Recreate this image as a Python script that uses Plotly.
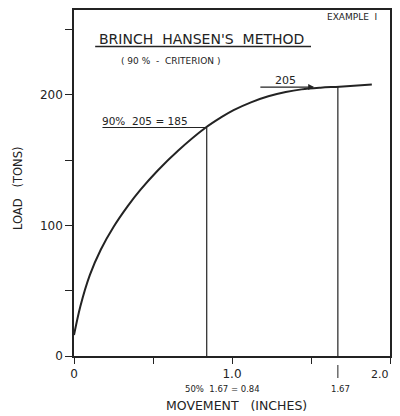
import plotly.graph_objects as go

# Load-movement curve (movement in inches, load in tons)
movement = [0.0, 0.04, 0.10, 0.17, 0.25, 0.34, 0.42, 0.53, 0.66, 0.83, 0.93, 1.01, 1.12, 1.23, 1.34, 1.44, 1.56, 1.68, 1.885]
load = [16, 38, 62, 81.6, 98.8, 114.8, 127.2, 142.1, 157.4, 174.6, 182.7, 188.3, 194.3, 198.9, 202.2, 204.2, 205.5, 206.3, 207.9]

# Construction lines
ult_load = 206          # "205" level as drawn
ult_move = 1.67
ninety_load = 175       # 90% line level as drawn
half_move = 0.84

xtick_vals = [0, 0.5, 1.0, 1.5, 2.0]
xtick_text = ["0", "", "1.0", "", ""]
x_end_label = "2.0"
ytick_vals = [0, 50, 100, 150, 200, 250]
ytick_text = ["0", "", "100", "", "200", ""]

INK = "#232323"
FONT = "DejaVu Sans"

# page has an 8px body margin; place plot area at screen px l=74,t=10,r=390,b=356
OFF = 8
W, H = 400 - OFF, 416 - OFF
L, R, T = 74 - OFF, 10, 10 - OFF
PH = 346
B = H - T - PH
PW = W - L - R


def px(sx):
    return (sx - 74) / PW


def py(sy):
    return (356 - sy) / PH


fig = go.Figure()
fig.add_trace(go.Scatter(x=movement, y=load, mode="lines",
                         line=dict(color=INK, width=2, shape="spline", smoothing=1.0),
                         hoverinfo="skip", showlegend=False))
fig.add_trace(go.Scatter(x=[half_move, half_move], y=[0, ninety_load], mode="lines",
                         line=dict(color=INK, width=1.2), showlegend=False))
fig.add_trace(go.Scatter(x=[ult_move, ult_move], y=[0, ult_load], mode="lines",
                         line=dict(color=INK, width=1.2), showlegend=False))
fig.add_trace(go.Scatter(x=[0.18, half_move], y=[ninety_load, ninety_load], mode="lines",
                         line=dict(color=INK, width=1.2), showlegend=False))

# title underline
fig.add_shape(type="line", x0=0.134, x1=1.50, y0=237, y1=237, xref="x", yref="y",
              line=dict(color=INK, width=1.5))
# leader tick under 1.67
fig.add_shape(type="line", x0=ult_move, x1=ult_move, y0=py(365), y1=py(378), xref="x", yref="paper",
              line=dict(color=INK, width=1))

ann = [
    dict(x=0.81, y=243, text="BRINCH  HANSEN'S  METHOD", size=14),
    dict(x=0.61, y=226, text="( 90 %  -  CRITERION )", size=9),
    dict(x=1.76, y=260, text="EXAMPLE  I", size=9),
    dict(x=0.45, y=180, text="90%  205 = 185", size=10.5),
    dict(x=1.34, y=211, text="205", size=11),
]
for a in ann:
    fig.add_annotation(xref="x", yref="y", x=a["x"], y=a["y"], text=a["text"], showarrow=False,
                       xanchor="center", yanchor="middle",
                       font=dict(family=FONT, size=a["size"], color=INK))

# arrow to 205 level
fig.add_annotation(x=1.52, y=ult_load, ax=1.17, ay=ult_load, xref="x", yref="y",
                   axref="x", ayref="y", showarrow=True, arrowhead=2, arrowsize=1,
                   arrowwidth=1.2, arrowcolor=INK, text="")

paper_ann = [
    dict(x=px(391), y=py(374), text=x_end_label, size=11, angle=0, xa="right"),
    dict(x=px(222), y=py(389), text="50%  1.67 = 0.84", size=8.5, angle=0, xa="center"),
    dict(x=px(340), y=py(389), text="1.67", size=8.5, angle=0, xa="center"),
    dict(x=px(236), y=py(405), text="MOVEMENT   (INCHES)", size=12.5, angle=0, xa="center"),
    dict(x=px(18), y=py(188), text="LOAD   (TONS)", size=11.5, angle=-90, xa="center"),
]
for a in paper_ann:
    fig.add_annotation(xref="paper", yref="paper", x=a["x"], y=a["y"], text=a["text"],
                       showarrow=False, xanchor=a["xa"], yanchor="middle", textangle=a["angle"],
                       font=dict(family=FONT, size=a["size"], color=INK))

fig.update_layout(
    width=W, height=H, margin=dict(l=L, r=R, t=T, b=B, autoexpand=False),
    paper_bgcolor="white", plot_bgcolor="white",
    font=dict(family=FONT, color=INK, size=12),
    xaxis=dict(range=[0, 2.0], tickvals=xtick_vals, ticktext=xtick_text,
               ticks="outside", ticklen=6, tickcolor=INK, tickwidth=1.2,
               showline=True, linecolor=INK, linewidth=1.5, mirror=True,
               showgrid=False, zeroline=False, tickfont=dict(size=12)),
    yaxis=dict(range=[0, 265], tickvals=ytick_vals, ticktext=ytick_text,
               ticks="outside", ticklen=7, tickcolor=INK, tickwidth=1.2,
               showline=True, linecolor=INK, linewidth=1.5, mirror="ticks",
               showgrid=False, zeroline=False, tickfont=dict(size=12)),
)

fig.write_html("out.html")
